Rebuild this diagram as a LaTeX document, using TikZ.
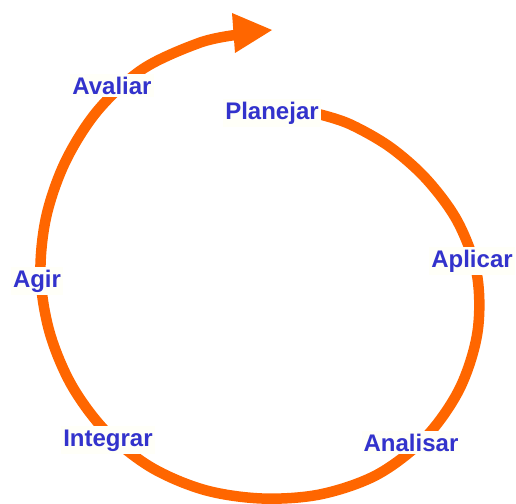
\documentclass[tikz,border=0pt]{standalone}
\usepackage{fontspec}
\setmainfont{Liberation Sans}
\begin{document}
\definecolor{cycleorange}{HTML}{FF6600}
\definecolor{stepblue}{HTML}{3333CC}
\definecolor{labelbg}{HTML}{FFFFF8}
\begin{tikzpicture}[x=1pt,y=-1pt,
  cycleline/.style={draw=cycleorange,line width=10.5pt,line join=round},
  phase/.style={anchor=base,text=stepblue,fill=labelbg,inner xsep=2pt,inner ysep=3pt,
    font=\fontsize{24}{24}\selectfont\bfseries}]
\useasboundingbox (0,0) rectangle (516,503);
% widening spiral around the centre, sampled every 15 degrees (clockwise on the page)
\coordinate (centre) at (262,275);
\draw[cycleline,shift={(centre)}] plot[smooth,tension=0.55] coordinates {
  (-71:170.5) (-60:174.5) (-45:181) (-30:190.5) (-15:203) (0:215) (15:223)
  (30:228) (45:230.5) (60:230.5) (75:227) (90:223.5) (105:222.5) (120:222)
  (135:221) (150:220) (165:220) (180:221.5) (195:223.5) (210:227)
  (225:232.5) (240:238) (255:240.5) (264:241.5)};
% arrow head closing the cycle
\coordinate (tipA) at (232,13);
\coordinate (tipB) at (235,53);
\coordinate (tip) at (272,30);
\fill[cycleorange] (tipA) -- (tip) -- (tipB) -- cycle;
% phase labels
\node[phase] (planejar) at (272,119) {Planejar};
\node[phase] (aplicar)  at (472,267) {Aplicar};
\node[phase] (analisar) at (411,451) {Analisar};
\node[phase] (integrar) at (108,446) {Integrar};
\node[phase] (agir)     at (37,287)  {Agir};
\node[phase] (avaliar)  at (112,94)  {Avaliar};
\end{tikzpicture}
\end{document}
